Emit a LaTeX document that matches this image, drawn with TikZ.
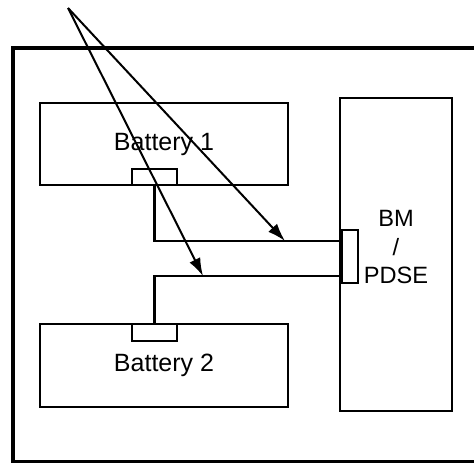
\documentclass[tikz,border=0pt]{standalone}
\usepackage{fontspec}
\setmainfont{Liberation Sans}
\usetikzlibrary{arrows.meta}

\begin{document}
\begin{tikzpicture}[x=0.5pt,y=0.5pt,
  box/.style={draw, line width=1.1pt, inner sep=0pt},
  wire/.style={line width=1.1pt},
  pointer/.style={line width=1pt, -{Latex[length=9pt,width=6pt]}},
  font=\fontsize{12.5pt}{14.25pt}\selectfont]
  \useasboundingbox (0,0) rectangle (474,463);

  % housing, right side runs off the picture
  \draw[line width=1.6pt] (474,415) -- (13,415) -- (13,1.5) -- (474,1.5);

  \node[box, minimum width=124pt, minimum height=41pt] (bat1) at (164,319) {Battery 1};
  \node[box, minimum width=22.5pt, minimum height=8pt] (term1) at (154.5,286) {};
  \node[box, minimum width=124pt, minimum height=41.5pt] (bat2) at (164,97.5) {Battery 2};
  \node[box, minimum width=22.5pt, minimum height=8.5pt] (term2) at (154.5,130.5) {};
  \node[box, minimum width=56pt, minimum height=156.5pt] (bm) at (396,208.5) {};
  \node[box, minimum width=8pt, minimum height=26.5pt] (plug) at (350,206.5) {};
  \node[align=center, font=\fontsize{11.8pt}{14.25pt}\selectfont] (bmtext) at (396,216) {BM\\/\\PDSE};

  % cables
  \draw[wire] (term1.south) |- (plug.west |- 0,222);
  \draw[wire] (term2.north) |- (plug.west |- 0,187);

  % pointers
  \coordinate (tail) at (68,455);
  \coordinate (tip1) at (285,222);
  \coordinate (tip2) at (203,187);
  \draw[pointer] (tail) -- (tip1);
  \draw[pointer] (tail) -- (tip2);

\end{tikzpicture}
\end{document}
